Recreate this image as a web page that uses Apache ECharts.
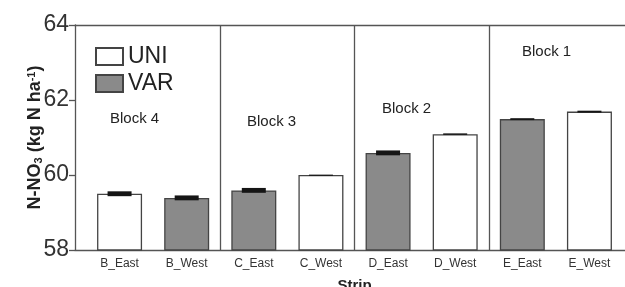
<!DOCTYPE html>
<html>
<head>
<meta charset="utf-8">
<script src="https://cdn.jsdelivr.net/npm/echarts@6/dist/echarts.min.js"></script>
<style>
  html, body { margin: 0; padding: 0; background: #fff; }
  #chart { width: 625px; height: 287px; }
</style>
</head>
<body>
<div id="chart"></div>
<script>
// strips along the x axis, in plot order
var categories = ['B_East', 'B_West', 'C_East', 'C_West', 'D_East', 'D_West', 'E_East', 'E_West']
// which rate each strip got
var treatment = ['UNI', 'VAR', 'VAR', 'UNI', 'VAR', 'UNI', 'VAR', 'UNI']
// mean N-NO3 (kg N/ha)
var means = [59.5, 59.39, 59.59, 60.0, 60.59, 61.09, 61.49, 61.69]
// half-height of the error bars
var errors = [0.065, 0.065, 0.065, 0.01, 0.065, 0.02, 0.025, 0.025]
var blockNames = ['Block 4', 'Block 3', 'Block 2', 'Block 1']
var yMin = 58, yMax = 64, yStep = 2

var font = 'Liberation Sans, Arial, sans-serif'

function seriesValues(name) {
  return means.map(function (v, i) { return treatment[i] === name ? v : '-' })
}

var errData = means.map(function (v, i) { return [i, v, errors[i]] })

var chart = echarts.init(document.getElementById('chart'))
chart.setOption({
  animation: false,
  backgroundColor: '#fff',
  textStyle: { fontFamily: font },
  grid: [
    // bars live here
    { left: 86, right: 2, top: 25, bottom: 37, outerBoundsMode: 'none' },
    // frame with the visible y axis and the long top / bottom lines
    { left: 75, right: 0, top: 25, bottom: 37, outerBoundsMode: 'none' }
  ],
  legend: {
    data: ['UNI', 'VAR'],
    orient: 'vertical',
    left: 95,
    top: 45,
    padding: 0,
    itemWidth: 27,
    itemHeight: 17,
    itemGap: 4,
    icon: 'rect',
    textStyle: { fontSize: 23, color: '#222', fontFamily: font }
  },
  xAxis: [{
    gridIndex: 0,
    type: 'category',
    data: categories,
    boundaryGap: true,
    axisLine: { show: false },
    axisTick: { show: false },
    axisLabel: { fontSize: 12, color: '#333', margin: 8 },
    splitLine: {
      show: true,
      showMaxLine: false,
      interval: function (index) { return index === 2 || index === 4 || index === 6 },
      lineStyle: { color: '#555', width: 1.3 }
    },
    name: 'Strip',
    nameLocation: 'middle',
    nameGap: 28,
    nameTextStyle: { fontSize: 15, fontWeight: 'bold', color: '#222' }
  }, {
    gridIndex: 1,
    type: 'value',
    position: 'bottom',
    min: 0, max: 1,
    axisLine: { show: true, onZero: false, lineStyle: { color: '#555', width: 1.3 } },
    axisTick: { show: false },
    axisLabel: { show: false },
    splitLine: { show: false }
  }, {
    gridIndex: 1,
    type: 'value',
    position: 'top',
    min: 0, max: 1,
    axisLine: { show: true, onZero: false, lineStyle: { color: '#555', width: 1.3 } },
    axisTick: { show: false },
    axisLabel: { show: false },
    splitLine: { show: false }
  }],
  yAxis: [{
    gridIndex: 0,
    type: 'value',
    min: yMin, max: yMax, interval: yStep,
    show: false
  }, {
    gridIndex: 1,
    type: 'value',
    min: yMin, max: yMax, interval: yStep,
    axisLine: { show: true, lineStyle: { color: '#555', width: 1.3 } },
    axisTick: { show: true, length: 6, lineStyle: { color: '#555', width: 1.3 } },
    axisLabel: { fontSize: 23, color: '#333', margin: 6 },
    splitLine: { show: false },
    name: '{a|N-NO}{sub|3}{a| (kg N ha}{sup|-1}{a|)}',
    nameLocation: 'middle',
    nameRotate: 90,
    nameGap: 31,
    nameMoveOverlap: false,
    nameTextStyle: {
      rich: {
        a: { fontSize: 18, fontWeight: 'bold', color: '#222', fontFamily: font },
        sub: { fontSize: 11, fontWeight: 'bold', color: '#222', verticalAlign: 'bottom', fontFamily: font },
        sup: { fontSize: 11, fontWeight: 'bold', color: '#222', verticalAlign: 'top', fontFamily: font }
      }
    }
  }],
  graphic: [
    { type: 'text', left: 110, top: 111, style: { text: blockNames[0], fontSize: 15, fill: '#222', fontFamily: font } },
    { type: 'text', left: 247, top: 114, style: { text: blockNames[1], fontSize: 15, fill: '#222', fontFamily: font } },
    { type: 'text', left: 382, top: 101, style: { text: blockNames[2], fontSize: 15, fill: '#222', fontFamily: font } },
    { type: 'text', left: 522, top: 44, style: { text: blockNames[3], fontSize: 15, fill: '#222', fontFamily: font } }
  ],
  series: [{
    name: 'UNI',
    type: 'bar',
    xAxisIndex: 0, yAxisIndex: 0,
    data: seriesValues('UNI'),
    barWidth: 45,
    barGap: '-100%',
    itemStyle: { color: '#ffffff', borderColor: '#444', borderWidth: 1.3 }
  }, {
    name: 'VAR',
    type: 'bar',
    xAxisIndex: 0, yAxisIndex: 0,
    data: seriesValues('VAR'),
    barWidth: 45,
    barGap: '-100%',
    itemStyle: { color: '#8a8a8a', borderColor: '#444', borderWidth: 1.3 }
  }, {
    name: 'err',
    type: 'custom',
    xAxisIndex: 0, yAxisIndex: 0,
    data: errData,
    z: 5,
    renderItem: function (params, api) {
      var x = api.value(0), v = api.value(1), e = api.value(2)
      var hi = api.coord([x, v + e])
      var lo = api.coord([x, v - e])
      var half = 12
      // error drawn as a filled band the width of the cap
      return {
        type: 'rect',
        shape: { x: hi[0] - half, y: hi[1], width: half * 2, height: Math.max(lo[1] - hi[1], 1.2) },
        style: { fill: '#151515' }
      }
    }
  }]
})
</script>
</body>
</html>
